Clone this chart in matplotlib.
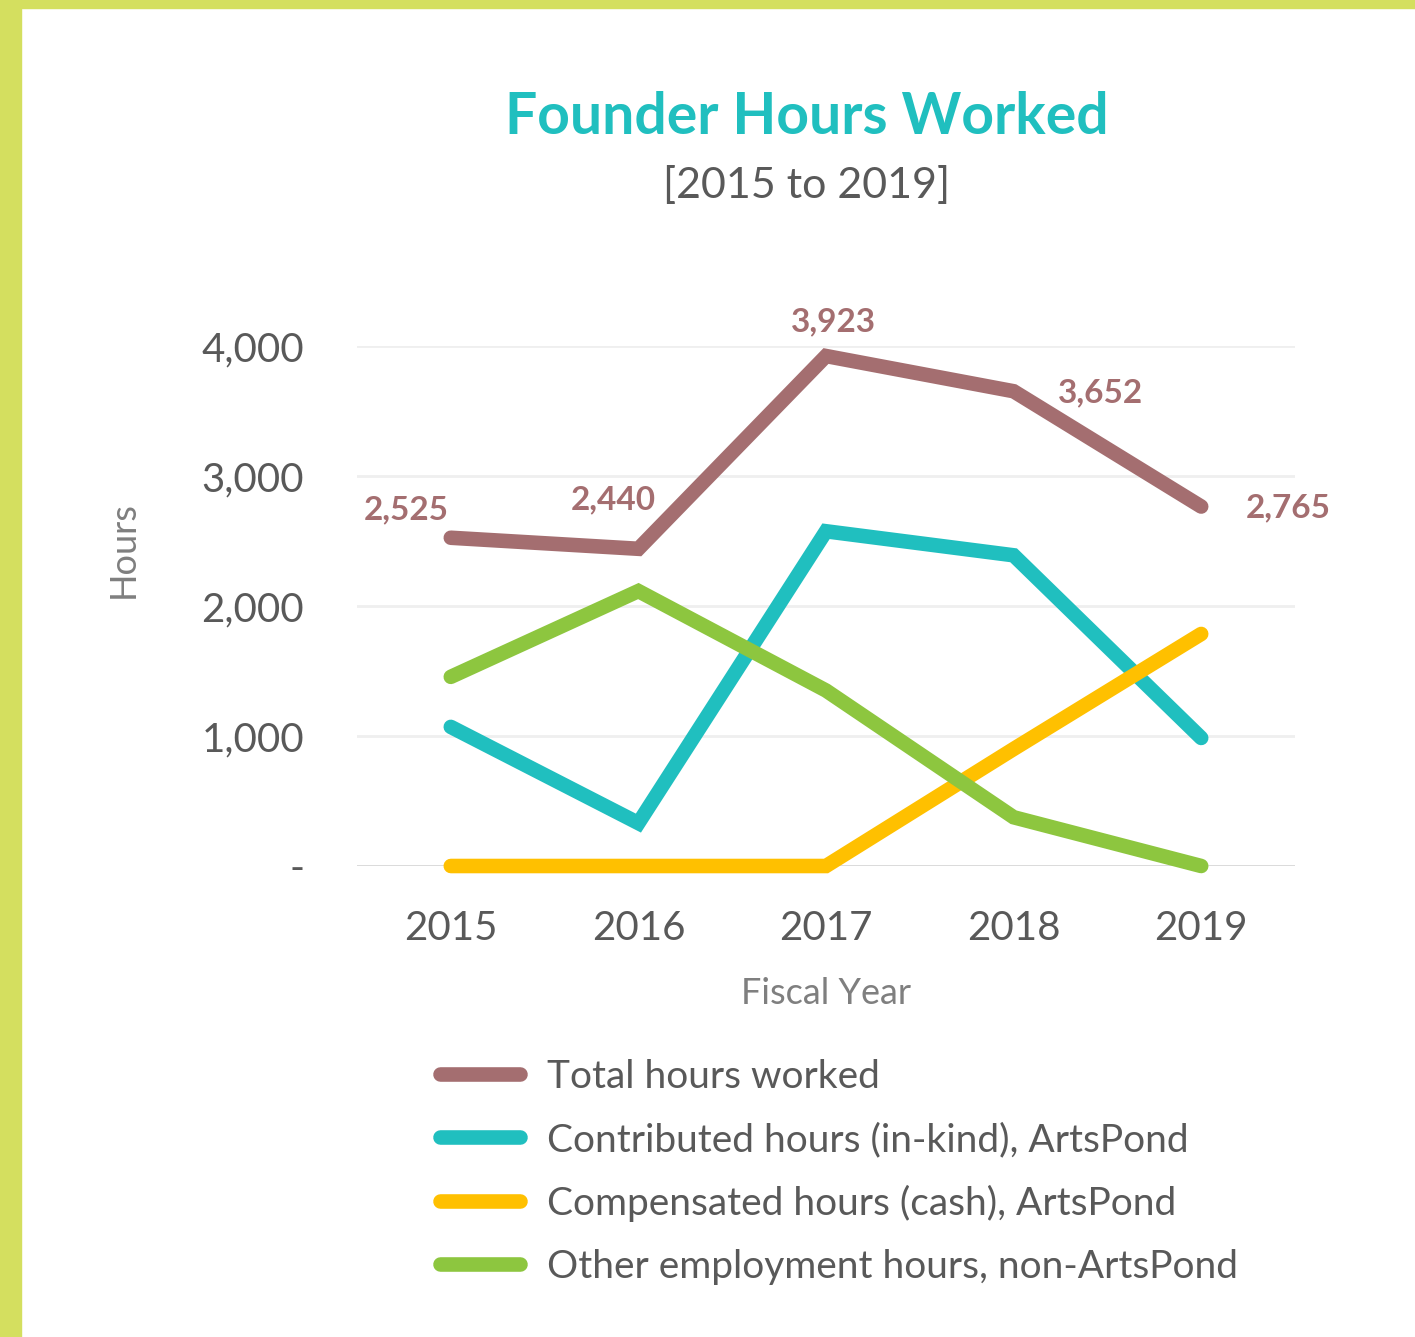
import matplotlib
matplotlib.use("Agg")
import matplotlib.pyplot as plt
from matplotlib.patches import Rectangle
from matplotlib.ticker import FuncFormatter

plt.rcParams['font.family'] = ['Lato', 'DejaVu Sans']

years = ["2015", "2016", "2017", "2018", "2019"]
total = [2525, 2440, 3923, 3652, 2765]
contributed = [1070, 330, 2575, 2390, 985]
compensated = [0, 0, 0, 900, 1785]
other = [1455, 2115, 1350, 375, 0]

series_names = ["Total hours worked",
                "Contributed hours (in-kind), ArtsPond",
                "Compensated hours (cash), ArtsPond",
                "Other employment hours, non-ArtsPond"]
colors = ["#a46e70", "#20bfbf", "#ffc000", "#8dc63f"]

W, H = 1415, 1337
fig = plt.figure(figsize=(W / 100, H / 100), dpi=100)
fig.patch.set_facecolor("white")

# border
fig.patches.append(Rectangle((0, 0), 21 / W, 1, transform=fig.transFigure,
                             color="#d4df5f", zorder=0))
fig.patches.append(Rectangle((0, 1 - 8 / H), 1, 8 / H, transform=fig.transFigure,
                             color="#d4df5f", zorder=0))

ax = fig.add_axes([357 / W, 1 - 866 / H, 938 / W, 520 / H])
x = list(range(len(years)))
for vals, c, name in zip([total, contributed, compensated, other], colors, series_names):
    ax.plot(x, vals, color=c, lw=10.5, solid_capstyle="round",
            solid_joinstyle="miter", label=name, clip_on=False, zorder=3)

ax.set_xlim(-0.5, 4.5)
ax.set_ylim(0, 4000)
ax.set_yticks([0, 1000, 2000, 3000, 4000])
ax.yaxis.set_major_formatter(FuncFormatter(lambda v, p: "-" if v == 0 else f"{int(v):,}"))
ax.set_xticks(x)
ax.set_xticklabels(years)
for s in ax.spines.values():
    s.set_visible(False)
ax.grid(axis="y", color="#efefef", lw=2)
ax.axhline(0, color="#d9d9d9", lw=2, zorder=1)
ax.set_axisbelow(True)
ax.tick_params(axis="both", length=0, labelsize=29, colors="#595959")
ax.tick_params(axis="y", pad=38)
ax.tick_params(axis="x", pad=32)

# data labels
offsets = [(-45, 28), (-25, 49), (8, 34), (87, -2), (87, -1)]
for i, (v, off) in enumerate(zip(total, offsets)):
    ax.annotate(f"{v:,}", (i, v), xytext=off, textcoords="offset pixels",
                ha="center", va="center", fontsize=24, fontweight="bold",
                color="#a46e70", zorder=5)

fig.text(807 / W, 1 - 117 / H, "Founder Hours Worked", ha="center", va="center",
         fontsize=41, fontweight="bold", color="#20bfbf")
fig.text(807 / W, 1 - 185 / H, "[2015 to 2019]", ha="center", va="center",
         fontsize=31, color="#595959")
fig.text(826 / W, 1 - 993 / H, "Fiscal Year", ha="center", va="center",
         fontsize=26, color="#7f7f7f")
fig.text(123 / W, 1 - 550 / H, "Hours", ha="center", va="center", rotation=90,
         fontsize=26, color="#7f7f7f")

leg = fig.legend(loc="upper left", bbox_to_anchor=(440 / W, 1 - 1059 / H),
                 frameon=False, fontsize=28, handlelength=2.06, handletextpad=0.7,
                 labelspacing=0.69, borderpad=0, borderaxespad=0)
for t in leg.get_texts():
    t.set_color("#595959")
for h in leg.get_lines():
    h.set_linewidth(10.5)
    h.set_solid_capstyle("round")

fig.savefig("out.png", dpi=100, facecolor="white")
